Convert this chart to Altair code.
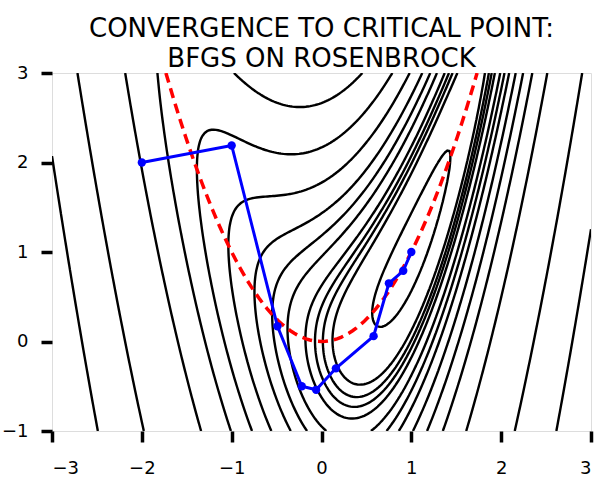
import altair as alt
import numpy as np
import pandas as pd

# ---------------- data ----------------
TITLE_LINES = ["CONVERGENCE TO CRITICAL POINT:", "BFGS ON ROSENBROCK"]
X_DOMAIN = [-3, 3]
Y_DOMAIN = [-1, 3]
X_TICKS = [-3, -2, -1, 0, 1, 2, 3]
Y_TICKS = [-1, 0, 1, 2, 3]

# contour levels of the Rosenbrock-type function
LEVELS = [0.19, 0.77, 0.97, 1.15, 1.39, 1.9, 2.4, 3.05, 4.15, 5.7, 8.1, 13.3, 33.0, 64.0]

# BFGS iterates
PATH_X = [-2.0, -1.0, -0.49, -0.22, -0.06, 0.16, 0.58, 0.75, 0.91, 1.0]
PATH_Y = [2.0, 2.19, 0.17, -0.50, -0.54, -0.30, 0.06, 0.65, 0.79, 1.0]

# valley of critical points  y = x^2
VALLEY_X = list(np.linspace(-1.732, 1.732, 81))

# grid on which the function is contoured
GRID_X = np.linspace(-3, 3, 241)
GRID_Y = np.linspace(-1, 3, 161)


def rosen(x, y):
    return (1 - x) ** 2 + (y - x ** 2) ** 2


def contour_lines(xs, ys, Z, lev):
    D = Z - lev
    D = np.where(D == 0, 1e-9, D)
    S = D > 0
    c0 = S[:-1, :-1]; c1 = S[:-1, 1:]; c2 = S[1:, 1:]; c3 = S[1:, :-1]
    mask = ~((c0 == c1) & (c1 == c2) & (c2 == c3))
    pts = {}
    adj = {}

    def pt(e):
        if e not in pts:
            kind, i, j = e
            if kind == "h":
                d0, d1 = D[j, i], D[j, i + 1]
                t = d0 / (d0 - d1)
                pts[e] = (xs[i] + t * (xs[i + 1] - xs[i]), ys[j])
            else:
                d0, d1 = D[j, i], D[j + 1, i]
                t = d0 / (d0 - d1)
                pts[e] = (xs[i], ys[j] + t * (ys[j + 1] - ys[j]))
        return e

    def link(a, b):
        pt(a); pt(b)
        adj.setdefault(a, []).append(b)
        adj.setdefault(b, []).append(a)

    js, iis = np.nonzero(mask)
    for j, i in zip(js, iis):
        bl, br, tr, tl = S[j, i], S[j, i + 1], S[j + 1, i + 1], S[j + 1, i]
        eb = ("h", i, j); er = ("v", i + 1, j); et = ("h", i, j + 1); el = ("v", i, j)
        cross = []
        if bl != br: cross.append(eb)
        if br != tr: cross.append(er)
        if tl != tr: cross.append(et)
        if bl != tl: cross.append(el)
        if len(cross) == 2:
            link(cross[0], cross[1])
        elif len(cross) == 4:
            center = (D[j, i] + D[j, i + 1] + D[j + 1, i] + D[j + 1, i + 1]) > 0
            if center == bl:
                link(eb, er); link(et, el)
            else:
                link(eb, el); link(er, et)

    lines = []
    seen = set()
    starts = [n for n, nb in adj.items() if len(nb) == 1] + list(adj.keys())
    for s0 in starts:
        if s0 in seen:
            continue
        chain = [s0]
        seen.add(s0)
        prev, cur = None, s0
        while True:
            nxt = [n for n in adj[cur] if n != prev and n not in seen]
            if not nxt:
                if len(chain) > 2 and s0 in adj[cur]:
                    chain.append(s0)
                break
            prev, cur = cur, nxt[0]
            chain.append(cur)
            seen.add(cur)
        lines.append([pts[n] for n in chain])
    return lines


GX, GY = np.meshgrid(GRID_X, GRID_Y)
Z = rosen(GX, GY)

rows = []
lid = 0
for lev in LEVELS:
    for line in contour_lines(GRID_X, GRID_Y, Z, lev):
        for k, (px, py) in enumerate(line):
            rows.append({"x": float(px), "y": float(py), "line": lid, "k": k})
        lid += 1
contour_df = pd.DataFrame(rows)

valley_df = pd.DataFrame({"x": VALLEY_X, "y": [v ** 2 for v in VALLEY_X]})
path_df = pd.DataFrame({"x": PATH_X, "y": PATH_Y, "step": list(range(len(PATH_X)))})

FONT = "DejaVu Sans"

xscale = alt.Scale(domain=X_DOMAIN, nice=False, zero=False)
yscale = alt.Scale(domain=Y_DOMAIN, nice=False, zero=False)

xaxis = alt.Axis(values=X_TICKS, tickSize=11, tickWidth=3.5, tickColor="black",
                 labelFontSize=18, labelFont=FONT, labelColor="black", labelPadding=17,
                 domain=False, grid=False, title=None, format="d")
yaxis = alt.Axis(values=Y_TICKS, tickSize=11, tickWidth=3.5, tickColor="black",
                 labelFontSize=18, labelFont=FONT, labelColor="black", labelPadding=13,
                 domain=False, grid=False, title=None, format="d")

contours = alt.Chart(contour_df).mark_line(color="black", strokeWidth=2.4, clip=True).encode(
    x=alt.X("x:Q", scale=xscale, axis=xaxis),
    y=alt.Y("y:Q", scale=yscale, axis=yaxis),
    detail="line:N",
    order="k:Q",
)

valley = alt.Chart(valley_df).mark_line(color="#ff0000", strokeWidth=3.5,
                                        strokeDash=[10, 6], clip=True).encode(
    x=alt.X("x:Q", scale=xscale), y=alt.Y("y:Q", scale=yscale)
)

path_line = alt.Chart(path_df).mark_line(color="#0000ff", strokeWidth=3).encode(
    x=alt.X("x:Q", scale=xscale), y=alt.Y("y:Q", scale=yscale), order="step:Q"
)
path_pts = alt.Chart(path_df).mark_circle(color="#0000ff", size=70, opacity=1).encode(
    x=alt.X("x:Q", scale=xscale), y=alt.Y("y:Q", scale=yscale)
)

chart = alt.layer(contours, valley, path_line, path_pts).properties(
    width=539,
    height=358,
    autosize=alt.AutoSizeParams(type="none"),
    padding={"left": 52, "top": 73, "right": 5, "bottom": 48},
    title=alt.Title(TITLE_LINES, fontSize=26, font=FONT, fontWeight="normal",
                    anchor="middle", offset=-8, lineHeight=30, color="black"),
).configure_view(stroke="black", strokeWidth=2.5).configure(background="white")

chart.save("out.html", embed_options={"renderer": "svg", "actions": False})
